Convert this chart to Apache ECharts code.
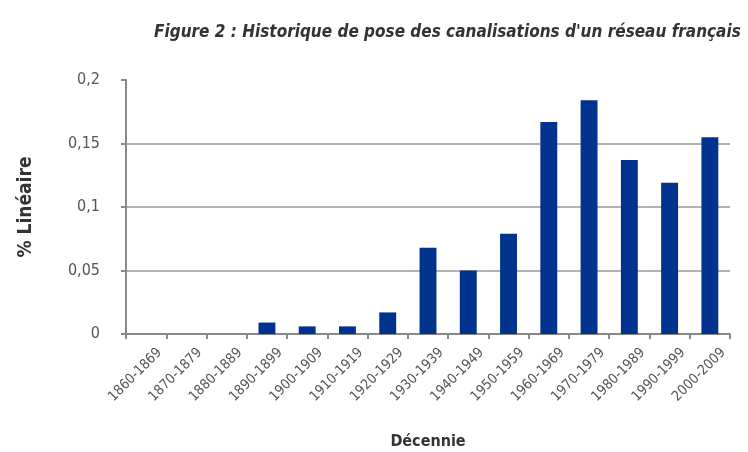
<!DOCTYPE html>
<html>
<head>
<meta charset="utf-8">
<script src="https://cdn.jsdelivr.net/npm/echarts@6/dist/echarts.min.js"></script>
<style>
  html, body { margin: 0; padding: 0; background: #fff; }
  #chart { width: 748px; height: 452px; }
</style>
</head>
<body>
<div id="chart"></div>
<script>
// décennies
var decades = ['1860-1869', '1870-1879', '1880-1889', '1890-1899', '1900-1909',
  '1910-1919', '1920-1929', '1930-1939', '1940-1949', '1950-1959',
  '1960-1969', '1970-1979', '1980-1989', '1990-1999', '2000-2009'];
// % linéaire posé par décennie
var lineaire = [0, 0, 0, 0.009, 0.006, 0.006, 0.017, 0.068, 0.05, 0.079,
  0.167, 0.184, 0.137, 0.119, 0.155];

var chart = echarts.init(document.getElementById('chart'));
var option = {
  animation: false,
  title: {
    text: "Figure 2 : Historique de pose des canalisations d'un réseau français",
    left: 149,
    top: 19,
    textStyle: {
      fontFamily: 'DejaVu Sans Condensed',
      fontStyle: 'italic',
      fontWeight: 'bold',
      fontSize: 17,
      color: '#333'
    }
  },
  grid: { left: 126, right: 18, top: 80, bottom: 118, outerBoundsMode: 'none' },
  xAxis: {
    type: 'category',
    data: decades,
    name: 'Décennie',
    nameLocation: 'middle',
    nameGap: 100,
    nameTextStyle: { fontFamily: 'DejaVu Sans Condensed', fontWeight: 'bold', fontSize: 16, color: '#333' },
    axisLine: { lineStyle: { color: '#888', width: 2 } },
    axisTick: { show: true, alignWithLabel: false, length: 5, lineStyle: { color: '#888', width: 2 } },
    axisLabel: {
      rotate: 45,
      interval: 0,
      margin: 30,
      padding: [0, -19, 0, 0],
      fontFamily: 'DejaVu Sans Condensed',
      fontSize: 14,
      color: '#555'
    }
  },
  yAxis: {
    type: 'value',
    min: 0,
    max: 0.2,
    interval: 0.05,
    name: '% Linéaire',
    nameLocation: 'middle',
    nameGap: 90,
    nameTextStyle: { fontFamily: 'DejaVu Sans Condensed', fontWeight: 'bold', fontSize: 19, color: '#333' },
    axisLine: { show: true, lineStyle: { color: '#888', width: 2 } },
    axisTick: { show: true, length: 5, lineStyle: { color: '#888', width: 2 } },
    axisLabel: {
      margin: 26,
      fontFamily: 'DejaVu Sans Condensed',
      fontSize: 16,
      color: '#555',
      formatter: function (v) { return String(v).replace('.', ','); }
    },
    splitLine: {
      show: true,
      lineStyle: { color: '#999', width: 1.5 },
      showMaxLine: false
    }
  },
  series: [{
    type: 'bar',
    data: lineaire,
    barWidth: '42%',
    itemStyle: { color: '#00338d' }
  }]
};
chart.setOption(option);
</script>
</body>
</html>
